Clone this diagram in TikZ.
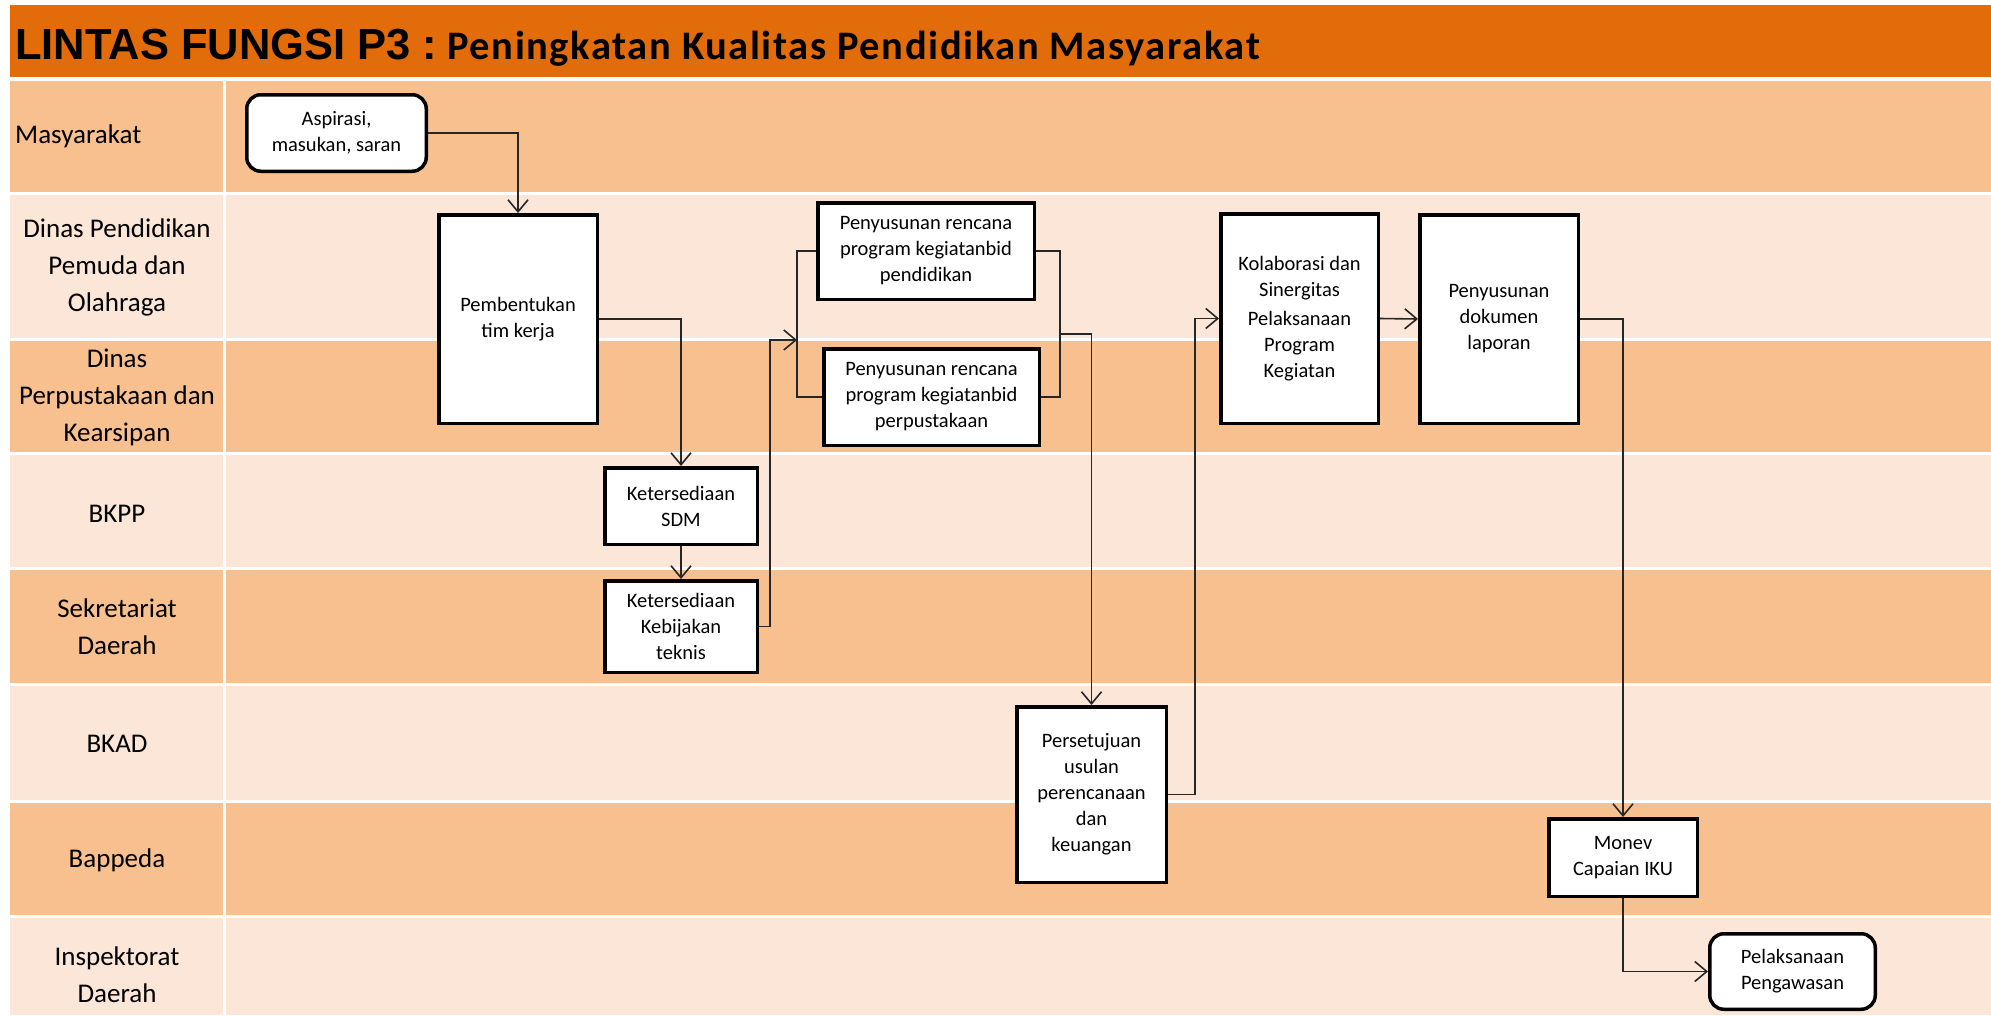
\documentclass[tikz,border=0pt]{standalone}
\usepackage{fontspec}
\setmainfont{Carlito}
\newfontfamily\ttlfont{Liberation Sans}
\newfontfamily\subfont[LetterSpace=4]{Carlito}
\usetikzlibrary{arrows.meta}
\definecolor{torange}{HTML}{E36C0A}
\definecolor{ldark}{HTML}{F9C08F}
\definecolor{llight}{HTML}{FCE6D7}
\newcommand\bxfont{\fontsize{20.5}{26}\selectfont}
\newcommand\lnfont{\fontsize{27}{37}\selectfont}
\begin{document}
\begin{tikzpicture}[x=1pt,y=-1pt,
  box/.style={draw=black, line width=3.5pt, fill=white, align=center, inner sep=2pt, font=\bxfont},
  rbox/.style={box, rounded corners=14pt},
  conn/.style={line width=1.6pt, draw=black!85, -{Straight Barb[length=12pt,width=20pt,line width=1.6pt]}},
  plain/.style={line width=1.6pt, draw=black!85},
  lane/.style={align=center, font=\lnfont, inner sep=0pt}]
\useasboundingbox (0,0) rectangle (1991,1015);
\fill[white] (0,0) rectangle (1991,1015);
\fill[torange] (10,5) rectangle (1991,77);
\foreach \t/\b/\c in {79/193/ldark,193/339/llight,339/453/ldark,453/568/llight,568/684/ldark,684/801/llight,801/916/ldark,916/1016/llight}{
  \fill[\c] (10,{\t+1.5}) rectangle (222.5,{\b-1.5});
  \fill[\c] (225.5,{\t+1.5}) rectangle (1991,{\b-1.5});
}
% title
\node[anchor=base west, inner sep=0pt, font=\ttlfont\bfseries\fontsize{43.5}{43}\selectfont] (t1) at (15,59) {LINTAS FUNGSI P3 :};
\node[anchor=base west, inner sep=0pt, font=\subfont\bfseries\fontsize{40.5}{40}\selectfont] (t2) at (447,59) {Peningkatan Kualitas Pendidikan Masyarakat};
% lane labels
\node[lane, anchor=west] (l1) at (15,136) {Masyarakat};
\node[lane] (l2) at (117,267) {Dinas Pendidikan\\Pemuda dan\\Olahraga};
\node[lane] (l3) at (117,397) {Dinas\\Perpustakaan dan\\Kearsipan};
\node[lane] (l4) at (117,514) {BKPP};
\node[lane] (l5) at (117,627) {Sekretariat\\Daerah};
\node[lane] (l6) at (117,744) {BKAD};
\node[lane] (l7) at (117,860) {Bappeda};
\node[lane] (l8) at (117,975) {Inspektorat\\Daerah};
% nodes
\node[rbox, minimum width=179.5pt, minimum height=76.5pt] (asp) at (336.5,133) {Aspirasi,\\masukan, saran};
\node[box, minimum width=158.5pt, minimum height=208.5pt] (pem) at (518,319) {Pembentukan\\tim kerja};
\node[box, minimum width=152.5pt, minimum height=76.5pt] (sdm) at (681,506) {Ketersediaan\\SDM};
\node[box, minimum width=152.5pt, minimum height=91.5pt] (keb) at (681,626.5) {Ketersediaan\\Kebijakan\\teknis};
\node[box, minimum width=216.5pt, minimum height=96.5pt] (p5) at (926,251) {Penyusunan rencana\\program kegiatanbid\\pendidikan};
\node[box, minimum width=215.5pt, minimum height=96.5pt] (p6) at (931.5,397) {Penyusunan rencana\\program kegiatanbid\\perpustakaan};
\node[box, minimum width=149.5pt, minimum height=175.5pt] (per) at (1091.5,794.5) {Persetujuan\\usulan\\perencanaan\\dan\\keuangan};
\node[box, minimum width=157.5pt, minimum height=209.5pt] (kol) at (1299.5,318.5) {Kolaborasi dan\\Sinergitas\\[3pt]Pelaksanaan\\Program\\Kegiatan};
\node[box, minimum width=158.5pt, minimum height=208.5pt] (dok) at (1499,319) {Penyusunan\\dokumen\\laporan};
\node[box, minimum width=148.5pt, minimum height=77.5pt] (mon) at (1623,857.5) {Monev\\Capaian IKU};
\node[rbox, minimum width=165.5pt, minimum height=75.5pt] (pen) at (1792.5,971.5) {Pelaksanaan\\Pengawasan};
% connectors
\coordinate (jL) at (797,340);
\coordinate (jR) at (1060,334);
\draw[conn] (asp.east) -| (pem.north);
\draw[conn] (pem.east) -| (sdm.north);
\draw[conn] (sdm.south) -- (keb.north);
\draw[conn] (keb.east) -- ++(11,0) |- (jL);
\draw[plain] (p5.west) -| (jL) |- (p6.west);
\draw[plain] (p5.east) -| (jR) |- (p6.east);
\draw[conn] (jR) -| (per.north);
\draw[conn] (per.east) -- ++(27,0) |- (kol.west);
\draw[conn] (kol.east) -- (dok.west);
\draw[conn] (dok.east) -| (mon.north);
\draw[conn] (mon.south) |- (pen.west);
\end{tikzpicture}
\end{document}
